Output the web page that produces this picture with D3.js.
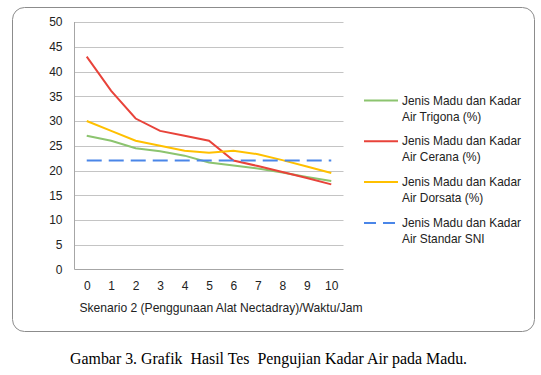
<!DOCTYPE html>
<html><head><meta charset="utf-8">
<script src="https://cdn.jsdelivr.net/npm/d3@7"></script>
<style>body{margin:0;background:#fff}svg{display:block}</style>
</head><body>
<svg id="c" width="541" height="375"></svg>
<script>
const categories = [0,1,2,3,4,5,6,7,8,9,10];
const trigona = [27,26,24.5,23.9,23,21.6,21,20.4,19.6,18.7,17.9];
const cerana  = [43,36.1,30.5,28,27,26,22,20.9,19.7,18.5,17.2];
const dorsata = [30,28,26,25,24,23.6,24,23.3,22.1,20.8,19.5];
const sni     = [22,22,22,22,22,22,22,22,22,22,22];
const seriesNames = ["Jenis Madu dan Kadar|Air Trigona (%)","Jenis Madu dan Kadar|Air Cerana (%)","Jenis Madu dan Kadar|Air Dorsata (%)","Jenis Madu dan Kadar|Air Standar SNI"];
const seriesColors = ["#8cc46f","#e8433a","#ffc000","#4a86e8"];
const yTicks = [0,5,10,15,20,25,30,35,40,45,50];
const xTitle = "Skenario 2 (Penggunaan Alat Nectadray)/Waktu/Jam";
const caption = "Gambar 3. Grafik  Hasil Tes  Pengujian Kadar Air pada Madu.";

const svg = d3.select("#c");
const font = "'Liberation Sans', Arial, sans-serif";

// chart border
svg.append("rect").attr("x",12.5).attr("y",7.5).attr("width",522).attr("height",324)
  .attr("rx",12).attr("fill","none").attr("stroke","#8c8c8c").attr("stroke-width",1);

const plotL = 74.5, plotR = 343.5, plotT = 22, plotB = 269.5;
const x = d3.scalePoint().domain(categories).range([plotL, plotR]).padding(0.5);
const y = d3.scaleLinear().domain([0,50]).range([plotB, plotT]);

// gridlines
svg.append("g").selectAll("line").data(yTicks.filter(d=>d>0)).join("line")
  .attr("x1",plotL).attr("x2",plotR).attr("y1",d=>Math.round(y(d))+0.5).attr("y2",d=>Math.round(y(d))+0.5)
  .attr("stroke","#c4c4c4").attr("stroke-width",1);

// y axis
const ya = svg.append("g").attr("transform",`translate(${plotL},0)`)
  .call(d3.axisLeft(y).tickValues(yTicks).tickSize(0).tickPadding(12));
ya.select(".domain").attr("stroke","#a6a6a6").attr("d",`M0,${plotT}V${plotB}`);
ya.selectAll("text").attr("font-family",font).attr("font-size",12).attr("fill","#222");
// x axis
const xa = svg.append("g").attr("transform",`translate(0,${plotB})`)
  .call(d3.axisBottom(x).tickSize(0).tickPadding(12));
xa.select(".domain").attr("stroke","#a6a6a6").attr("d",`M${plotL},0H${plotR}`);
xa.selectAll("text").attr("font-family",font).attr("font-size",12).attr("fill","#222");

svg.append("text").attr("x",(79+363)/2).attr("y",312).attr("text-anchor","middle")
  .attr("font-family",font).attr("font-size",12.1).attr("fill","#222").text(xTitle);

const line = d3.line().x((d,i)=>x(categories[i])).y(d=>y(d));
const allSeries = [trigona, cerana, dorsata, sni];
allSeries.forEach((s,i)=>{
  svg.append("path").datum(s).attr("d",line).attr("fill","none")
    .attr("stroke",seriesColors[i]).attr("stroke-width",2)
    .attr("stroke-dasharray", i===3 ? "15,7" : null);
});

// legend
const lg = svg.append("g");
seriesNames.forEach((n,i)=>{
  const yy = 100.5 + i*40.8;
  lg.append("line").attr("x1",364).attr("x2",398).attr("y1",yy).attr("y2",yy)
    .attr("stroke",seriesColors[i]).attr("stroke-width",2)
    .attr("stroke-dasharray", i===3 ? "12,7" : null);
  n.split("|").forEach((t,j)=>{
    lg.append("text").attr("x",402).attr("y",yy+4+j*16).attr("font-family",font)
      .attr("font-size",11.9).attr("fill","#222").text(t);
  });
});

svg.append("text").attr("x",70).attr("y",364).attr("font-family","'Liberation Serif', 'Times New Roman', serif")
  .attr("font-size",15.9).attr("fill","#000").style("white-space","pre").text(caption);
</script>
</body></html>
